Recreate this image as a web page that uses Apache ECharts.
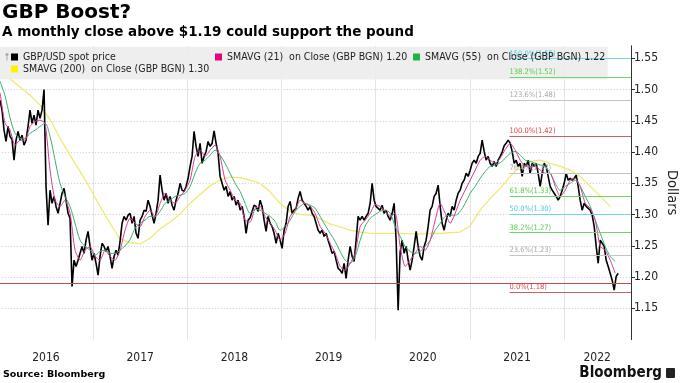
<!DOCTYPE html>
<html><head><meta charset="utf-8">
<script src="https://cdn.jsdelivr.net/npm/echarts@6/dist/echarts.min.js"></script>
<style>html,body{margin:0;padding:0;background:#fff}#c{width:680px;height:383px}</style>
</head><body><div id="c"></div>
<script>
// ---------------- data ----------------
const titleText = 'GBP Boost?';
const subtitleText = 'A monthly close above $1.19 could support the pound';
const sourceText = 'Source: Bloomberg';
const brandText = 'Bloomberg';
const axisName = 'Dollars';
const seriesNames = [
  'GBP/USD spot price',
  'SMAVG (21)  on Close (GBP BGN) 1.20',
  'SMAVG (55)  on Close (GBP BGN) 1.22',
  'SMAVG (200)  on Close (GBP BGN) 1.30'
];
const yearLabels = ['2016', '2017', '2018', '2019', '2020', '2021', '2022'];
const yearLabelAt = [2016.5, 2017.5, 2018.5, 2019.5, 2020.5, 2021.5, 2022.35];

// sampled roughly weekly (decimal years)
const priceStart = 2016.013;
const priceStep = 0.02123;
const priceValues = [
  1.483,1.467,1.435,1.417,1.441,1.425,1.420,1.387,1.419,1.433,
  1.419,1.427,1.411,1.419,1.441,1.467,1.446,1.459,1.443,1.467,
  1.454,1.467,1.500,1.345,1.283,1.339,1.318,1.329,1.313,1.302,
  1.318,1.334,1.342,1.323,1.302,1.294,1.185,1.227,1.217,1.227,
  1.238,1.249,1.238,1.259,1.273,1.249,1.227,1.238,1.222,1.203,
  1.233,1.254,1.249,1.241,1.249,1.233,1.214,1.233,1.243,1.235,
  1.257,1.286,1.297,1.291,1.299,1.302,1.286,1.297,1.270,1.262,
  1.291,1.297,1.307,1.305,1.323,1.313,1.299,1.286,1.302,1.323,
  1.363,1.339,1.323,1.334,1.318,1.329,1.315,1.307,1.323,1.334,
  1.350,1.339,1.337,1.345,1.358,1.377,1.393,1.433,1.409,1.393,
  1.414,1.382,1.393,1.401,1.417,1.409,1.414,1.434,1.414,1.398,
  1.361,1.350,1.339,1.345,1.329,1.337,1.323,1.329,1.315,1.323,
  1.307,1.313,1.297,1.270,1.291,1.295,1.305,1.315,1.313,1.305,
  1.323,1.313,1.291,1.273,1.297,1.286,1.281,1.270,1.254,1.270,
  1.259,1.246,1.275,1.286,1.313,1.321,1.302,1.307,1.310,1.326,
  1.337,1.323,1.318,1.313,1.307,1.313,1.302,1.297,1.286,1.275,
  1.270,1.275,1.265,1.270,1.259,1.249,1.238,1.241,1.227,1.214,
  1.211,1.206,1.222,1.198,1.227,1.249,1.233,1.225,1.259,1.297,
  1.291,1.297,1.291,1.297,1.302,1.318,1.350,1.323,1.313,1.310,
  1.307,1.315,1.302,1.307,1.297,1.291,1.302,1.318,1.259,1.147,
  1.240,1.259,1.238,1.249,1.227,1.211,1.227,1.249,1.273,1.249,
  1.233,1.227,1.249,1.259,1.281,1.307,1.313,1.329,1.334,1.347,
  1.313,1.286,1.275,1.291,1.302,1.297,1.313,1.307,1.323,1.334,
  1.339,1.350,1.355,1.366,1.361,1.371,1.382,1.387,1.382,1.393,
  1.398,1.419,1.401,1.387,1.393,1.382,1.377,1.385,1.377,1.387,
  1.393,1.400,1.410,1.414,1.419,1.414,1.401,1.382,1.387,1.377,
  1.382,1.361,1.382,1.377,1.387,1.366,1.382,1.377,1.382,1.366,
  1.345,1.366,1.382,1.377,1.361,1.345,1.339,1.334,1.329,1.323,
  1.329,1.339,1.350,1.366,1.355,1.358,1.355,1.358,1.363,1.345,
  1.323,1.307,1.318,1.313,1.310,1.307,1.299,1.281,1.249,1.222,
  1.259,1.254,1.249,1.227,1.217,1.206,1.195,1.179,1.201,1.206
];

const smaStart = 2016.013;
const smaStep = 0.05308;
const sma21Values = [
  1.495,1.446,1.435,1.411,1.419,1.419,1.441,1.449,1.451,1.446,
  1.371,1.323,1.313,1.323,1.302,1.243,1.227,1.243,1.249,1.233,
  1.227,1.243,1.233,1.227,1.243,1.275,1.294,1.286,1.281,1.297,
  1.307,1.297,1.318,1.334,1.323,1.318,1.329,1.339,1.355,1.393,
  1.403,1.393,1.403,1.411,1.393,1.355,1.339,1.323,1.318,1.291,
  1.288,1.310,1.313,1.297,1.286,1.275,1.259,1.270,1.297,1.307,
  1.323,1.318,1.313,1.302,1.281,1.270,1.254,1.238,1.217,1.211,
  1.222,1.238,1.281,1.291,1.302,1.316,1.313,1.305,1.297,1.302,
  1.249,1.217,1.227,1.238,1.249,1.243,1.259,1.291,1.318,1.302,
  1.286,1.302,1.323,1.339,1.355,1.371,1.387,1.393,1.387,1.382,
  1.390,1.404,1.414,1.403,1.387,1.377,1.377,1.377,1.371,1.366,
  1.366,1.345,1.329,1.339,1.355,1.358,1.345,1.318,1.310,1.291,
  1.249,1.243,1.227,1.206
];
const sma55Values = [
  1.513,1.490,1.455,1.430,1.422,1.422,1.430,1.435,1.441,1.446,
  1.425,1.387,1.350,1.329,1.313,1.286,1.259,1.249,1.243,1.235,
  1.241,1.243,1.238,1.238,1.243,1.250,1.260,1.278,1.286,1.291,
  1.297,1.297,1.305,1.318,1.323,1.329,1.331,1.334,1.345,1.366,
  1.382,1.387,1.395,1.403,1.395,1.382,1.366,1.350,1.337,1.318,
  1.302,1.308,1.307,1.302,1.297,1.289,1.275,1.281,1.291,1.305,
  1.313,1.318,1.315,1.310,1.297,1.283,1.270,1.257,1.241,1.227,
  1.222,1.233,1.259,1.281,1.294,1.300,1.305,1.307,1.302,1.281,
  1.265,1.249,1.241,1.238,1.241,1.249,1.259,1.275,1.286,1.297,
  1.299,1.299,1.305,1.318,1.334,1.345,1.358,1.369,1.377,1.379,
  1.383,1.390,1.398,1.401,1.395,1.387,1.385,1.382,1.379,1.377,
  1.366,1.350,1.339,1.345,1.350,1.355,1.345,1.329,1.313,1.291,
  1.270,1.249,1.233,1.225
];
const sma200Start = 2016.013;
const sma200Step = 0.10616;
const sma200Values = [
  1.531,1.517,1.504,1.491,1.475,1.452,1.422,1.395,1.369,1.342,
  1.313,1.286,1.261,1.255,1.253,1.262,1.277,1.288,1.301,1.318,
  1.332,1.346,1.355,1.360,1.359,1.355,1.350,1.336,1.318,1.305,
  1.300,1.299,1.293,1.285,1.280,1.275,1.272,1.270,1.270,1.270,
  1.270,1.269,1.269,1.270,1.270,1.271,1.272,1.282,1.307,1.326,
  1.342,1.361,1.377,1.385,1.387,1.382,1.377,1.371,1.361,1.345,
  1.329,1.313
];

const supportLevel = 1.19;
const fibPercents = [0, 23.6, 38.2, 50, 61.8, 76.4, 100, 123.6, 138.2, 150];
const fibValues   = [1.1759, 1.2347, 1.2710, 1.3004, 1.3298, 1.3662, 1.4249, 1.4835, 1.5200, 1.5494];
const fibStartYear = 2021.42;

// ---------------- styling / build ----------------
const xMin = 2016, xMax = 2022.709;
const fibColors = {
  red:   ['#c96262', '#d84a4a'],
  gray:  ['#c4c4c4', '#a9a9a9'],
  green: ['#6fd36f', '#5ccc4c'],
  cyan:  ['#72d6e6', '#48c8e0']
};
const fibKind = [ 'red','gray','green','cyan','green','gray','red','gray','green','cyan' ];
const NARROW = '"DejaVu Sans Condensed", "DejaVu Sans", sans-serif';

const toPairs = (start, step, vals) => vals.map((v, i) => [start + i * step, v]);

const markData = fibPercents.map((p, i) => {
  const c = fibColors[fibKind[i]];
  return [
    { coord: [fibStartYear, fibValues[i]],
      lineStyle: { color: c[0], width: 1, type: 'solid' },
      label: { show: true, position: 'insideStartTop', distance: [0, 1],
               formatter: p.toFixed(1) + '%(' + fibValues[i].toFixed(2) + ')',
               color: c[1], fontSize: 7.5, fontFamily: NARROW } },
    { coord: [xMax, fibValues[i]] }
  ];
});
markData.unshift({ yAxis: supportLevel, lineStyle: { color: '#c0504d', width: 1, type: 'solid' }, label: { show: false } });

const colors = { price: '#000000', s21: '#d83a96', s55: '#37b36e', s200: '#efe86a' };
const iconColors = ['#000000', '#e5007e', '#22b04b', '#fff200'];

function legendAt(i, left, top) {
  return {
    left: left, top: top, padding: 0, selectedMode: false, icon: 'rect',
    itemWidth: 7, itemHeight: 7, z: 6,
    data: [{ name: seriesNames[i], itemStyle: { color: iconColors[i] } }],
    textStyle: { fontSize: 10.5, color: '#222', fontFamily: NARROW }
  };
}

const option = {
  animation: false,
  backgroundColor: '#ffffff',
  grid: { left: -1.2, right: 49, top: 45.8, bottom: 43.45, containLabel: false, outerBoundsMode: 'none' },
  xAxis: {
    type: 'value', min: xMin, max: xMax, interval: 1,
    axisLine: { show: false }, axisTick: { show: false },
    splitLine: { show: true, lineStyle: { color: '#e3e3e3', width: 1 } },
    axisLabel: {
      customValues: yearLabelAt,
      formatter: (v) => yearLabels[yearLabelAt.findIndex(a => Math.abs(a - v) < 1e-6)] || '',
      fontSize: 12, color: '#222', margin: 12, fontFamily: NARROW
    }
  },
  yAxis: {
    type: 'value', position: 'right', min: 1.10, max: 1.57, interval: 0.05,
    name: axisName, nameLocation: 'middle', nameRotate: -90, nameGap: 33,
    nameMoveOverlap: false,
    nameTextStyle: { fontSize: 14.5, color: '#222', fontFamily: NARROW },
    axisLine: { show: true, lineStyle: { color: '#333', width: 1 } },
    axisTick: { show: true, length: 4, lineStyle: { color: '#333' } },
    axisLabel: { fontSize: 12, color: '#222', margin: 3, fontFamily: NARROW,
                 showMinLabel: false, showMaxLabel: false,
                 formatter: (v) => v.toFixed(2) },
    splitLine: { show: true, showMinLine: false, showMaxLine: false,
                 lineStyle: { color: '#c8c8c8', type: [1, 2], width: 1 } }
  },
  legend: [
    legendAt(0, 11, 51.5),
    legendAt(1, 215, 51.5),
    legendAt(2, 413, 51.5),
    legendAt(3, 11, 63.5)
  ],
  graphic: [
    { type: 'text', left: 2, top: 3, z: 10,
      style: { text: titleText, font: 'bold 20px "DejaVu Sans"', fill: '#000' } },
    { type: 'text', left: 2, top: 25, z: 10,
      style: { text: subtitleText, font: 'bold 13.5px "DejaVu Sans"', fill: '#000' } },
    { type: 'rect', left: 0, top: 46.7, z: 5, silent: true,
      shape: { width: 607.7, height: 32.7 }, style: { fill: 'rgba(236,236,236,0.9)' } },
    { type: 'circle', z: 7, silent: true, shape: { cx: 7, cy: 54.5, r: 1.6 },
      style: { fill: '#aaa' } },
    { type: 'line', z: 7, silent: true, shape: { x1: 7, y1: 55.5, x2: 7, y2: 60.5 },
      style: { stroke: '#aaa', lineWidth: 1 } },
    { type: 'text', left: 3, top: 370, z: 10,
      style: { text: sourceText, font: 'bold 9.5px "DejaVu Sans"', fill: '#000' } },
    { type: 'text', right: 18, top: 366, z: 10,
      style: { text: brandText, font: 'bold 15px ' + NARROW, fill: '#111' } },
    { type: 'rect', right: 5, top: 368, z: 10, silent: true,
      shape: { width: 9, height: 10, r: 1 }, style: { fill: '#222' } }
  ],
  series: [
    { name: seriesNames[3], type: 'line', data: toPairs(sma200Start, sma200Step, sma200Values),
      showSymbol: false, symbol: 'none', z: 2, color: colors.s200,
      lineStyle: { color: colors.s200, width: 1.2 },
      markLine: { silent: true, symbol: 'none', animation: false, data: markData } },
    { name: seriesNames[0], type: 'line', data: toPairs(priceStart, priceStep, priceValues),
      showSymbol: false, symbol: 'none', z: 3, color: colors.price,
      lineStyle: { color: colors.price, width: 1.6 } },
    { name: seriesNames[2], type: 'line', data: toPairs(smaStart, smaStep, sma55Values),
      showSymbol: false, symbol: 'none', z: 3, color: colors.s55, smooth: 0.3,
      lineStyle: { color: colors.s55, width: 1 } },
    { name: seriesNames[1], type: 'line', data: toPairs(smaStart, smaStep, sma21Values),
      showSymbol: false, symbol: 'none', z: 3, color: colors.s21, smooth: 0.2,
      lineStyle: { color: colors.s21, width: 1 } }
  ]
};
const chart = echarts.init(document.getElementById('c'), null, { renderer: 'canvas' });
chart.setOption(option);
</script>
</body></html>
